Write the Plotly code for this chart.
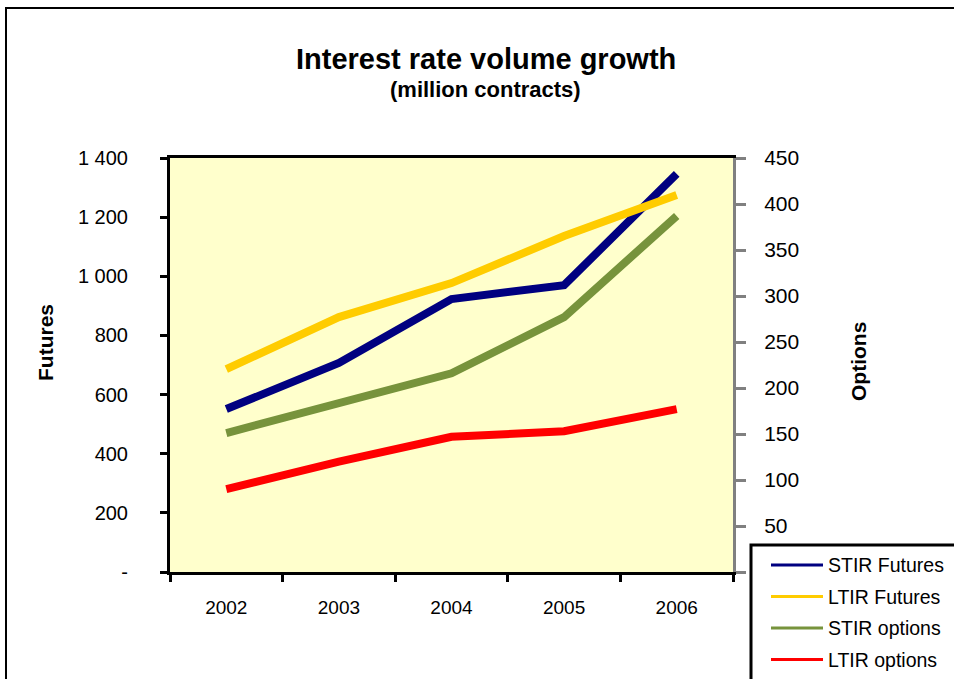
import plotly.graph_objects as go

years = ["2002", "2003", "2004", "2005", "2006"]

# Futures volumes (left axis, million contracts)
stir_futures = [551, 707, 923, 970, 1346]
ltir_futures = [686, 862, 977, 1136, 1275]

# Options volumes (right axis, million contracts)
stir_options = [151, 184, 216, 277, 387]
ltir_options = [90, 120, 147, 153, 177]

left_ticks = [0, 200, 400, 600, 800, 1000, 1200, 1400]
left_labels = ["-", "200", "400", "600", "800", "1 000", "1 200", "1 400"]
right_ticks = [0, 50, 100, 150, 200, 250, 300, 350, 400, 450]
right_labels = ["", "50", "100", "150", "200", "250", "300", "350", "400", "450"]

FONT = "Liberation Sans, Arial, sans-serif"

series = [
    ("STIR Futures", stir_futures, "#000080", "y"),
    ("LTIR Futures", ltir_futures, "#FFCC00", "y"),
    ("STIR options", stir_options, "#77933C", "y2"),
    ("LTIR options", ltir_options, "#FF0000", "y2"),
]

# Plot-area geometry in pixels, used to place the boxed legend and titles
W, H = 954, 679
PL, PR, PT, PB = 170, 733, 158, 572


def px(x):
    return (x - PL) / (PR - PL)


def py(y):
    return (PB - y) / (PB - PT)


fig = go.Figure()
for name, vals, color, ax in series:
    fig.add_trace(go.Scatter(
        x=years, y=vals, name=name, yaxis=ax, mode="lines",
        line=dict(color=color, width=8),
        showlegend=False,
    ))

shapes = [
    # outer chart frame
    dict(type="rect", xref="paper", yref="paper",
         x0=px(6), x1=px(990), y0=py(720), y1=py(8),
         line=dict(color="black", width=2), layer="below"),
    # legend box
    dict(type="rect", xref="paper", yref="paper",
         x0=px(751), x1=px(990), y0=py(720), y1=py(545),
         fillcolor="white", line=dict(color="black", width=3), layer="above"),
]
annotations = [
    dict(text="<b>Interest rate volume growth</b>", xref="paper", yref="paper",
         x=px(486), y=py(59), showarrow=False,
         font=dict(size=29), xanchor="center", yanchor="middle"),
    dict(text="<b>(million contracts)</b>", xref="paper", yref="paper",
         x=px(485), y=py(90), showarrow=False,
         font=dict(size=22), xanchor="center", yanchor="middle"),
    dict(text="<b>Futures</b>", xref="paper", yref="paper",
         x=px(45), y=py(343), showarrow=False, textangle=-90,
         font=dict(size=21), xanchor="center", yanchor="middle"),
    dict(text="<b>Options</b>", xref="paper", yref="paper",
         x=px(858), y=py(362), showarrow=False, textangle=-90,
         font=dict(size=21), xanchor="center", yanchor="middle"),
]

# legend entries: short line sample + series name
for i, (name, vals, color, ax) in enumerate(series):
    ly = 565 + i * 31.5
    shapes.append(dict(type="line", xref="paper", yref="paper",
                       x0=px(771), x1=px(823), y0=py(ly), y1=py(ly),
                       line=dict(color=color, width=3), layer="above"))
    annotations.append(dict(text=name, xref="paper", yref="paper",
                            x=px(826), y=py(ly), showarrow=False,
                            font=dict(size=19.5), xanchor="left", yanchor="middle"))

fig.update_layout(
    width=W, height=H,
    margin=dict(l=PL, r=W - PR, t=PT, b=H - PB, autoexpand=False),
    paper_bgcolor="white",
    plot_bgcolor="#FFFFCC",
    font=dict(family=FONT, color="black"),
    showlegend=False,
    xaxis=dict(
        type="category", tickson="boundaries", range=[-0.5, 4.5],
        showline=True, linecolor="black", linewidth=3, mirror=True,
        ticks="outside", ticklen=7, tickwidth=3, tickcolor="black",
        tickfont=dict(size=19), showgrid=False, zeroline=False,
        ticklabelstandoff=16,
    ),
    yaxis=dict(
        range=[0, 1400], tickvals=left_ticks, ticktext=left_labels,
        showline=True, linecolor="black", linewidth=3, mirror=True,
        ticks="outside", ticklen=7, tickwidth=3, tickcolor="black",
        tickfont=dict(size=20), showgrid=False, zeroline=False,
        ticklabelstandoff=28,
    ),
    yaxis2=dict(
        range=[0, 450], tickvals=right_ticks, ticktext=right_labels,
        overlaying="y", side="right",
        showline=True, linecolor="#808080", linewidth=3,
        ticks="outside", ticklen=10, tickwidth=3, tickcolor="#808080",
        tickfont=dict(size=21), showgrid=False, zeroline=False,
        ticklabelstandoff=14,
    ),
    shapes=shapes,
    annotations=annotations,
)

fig.write_html("out.html")
